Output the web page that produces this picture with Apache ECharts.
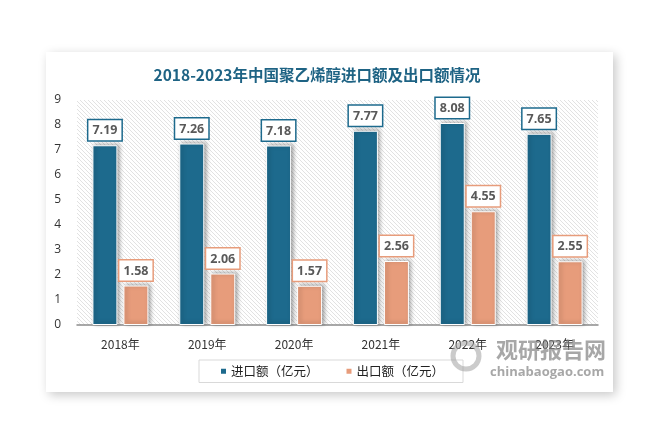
<!DOCTYPE html>
<html><head><meta charset="utf-8">
<script src="https://cdn.jsdelivr.net/npm/echarts@6/dist/echarts.min.js"></script>
<style>
html,body{margin:0;padding:0;background:#fff;width:659px;height:442px;overflow:hidden;}
#card{position:absolute;left:46px;top:52px;width:567px;height:340px;background:#fff;box-shadow:3px 3px 10px rgba(0,0,0,0.22);}
#main{position:absolute;left:0;top:0;width:659px;height:442px;}
</style></head>
<body>
<div id="card"></div>
<div id="main"></div>
<script>
const titleText = '2018-2023年中国聚乙烯醇进口额及出口额情况';
const categories = ['2018年','2019年','2020年','2021年','2022年','2023年'];
const importName = '进口额（亿元）';
const exportName = '出口额（亿元）';
const importValues = [7.19, 7.26, 7.18, 7.77, 8.08, 7.65];
const exportValues = [1.58, 2.06, 1.57, 2.56, 4.55, 2.55];

const blue = '#1d6a8d';
const orange = '#e79c7b';

// hatch pattern for plot background
const pc = document.createElement('canvas');
pc.width = 4; pc.height = 4;
const g = pc.getContext('2d');
g.fillStyle = '#ffffff'; g.fillRect(0,0,4,4);
g.strokeStyle = '#e2e2e2'; g.lineWidth = 1;
g.beginPath(); g.moveTo(-1,-1); g.lineTo(5,5); g.stroke();
g.beginPath(); g.moveTo(-1,3); g.lineTo(1,5); g.stroke();
g.beginPath(); g.moveTo(3,-1); g.lineTo(5,1); g.stroke();

const chart = echarts.init(document.getElementById('main'), null, {renderer:'canvas'});
function labelFor(color){
  return {show:true, position:'top', distance:5, backgroundColor:'#fff', borderColor:color, borderWidth:1.5,
    padding:[4,4,3,4], color:'#595959', fontWeight:'bold', fontSize:12.5, fontFamily:'Open Sans',
    formatter: p => p.value.toFixed(2)};
}
chart.setOption({
  backgroundColor:'transparent',
  animation:false,
  title:{text:titleText, left:312, top:62, textAlign:'center',
    textStyle:{color:'#1e6384', fontSize:15.5, fontWeight:'bold', fontFamily:'Noto Sans CJK SC'}},
  grid:{left:77, right:61, top:100, bottom:117, show:true, borderWidth:0,
    backgroundColor:{image:pc, repeat:'repeat'}},
  legend:{left:199, top:360, itemWidth:7, itemHeight:7, itemGap:26, padding:[5,19,5,20],
    borderColor:'#d9d9d9', borderWidth:1, icon:'rect',
    textStyle:{fontSize:12.5, color:'#222', fontFamily:'Noto Sans CJK SC', padding:[0,0,0,-1]},
    data:[importName, exportName]},
  xAxis:{type:'category', data:categories,
    axisLine:{lineStyle:{color:'#8c8c8c', width:1.5}}, axisTick:{show:false},
    axisLabel:{color:'#333', fontSize:12, margin:13, fontFamily:'Noto Sans CJK SC'}},
  yAxis:{type:'value', min:0, max:9, interval:1,
    axisLine:{show:false}, axisTick:{show:false}, splitLine:{show:false},
    axisLabel:{color:'#333', fontSize:12, margin:16, fontFamily:'Open Sans'}},
  series:[
    {name:importName, type:'bar', data:importValues, barWidth:25, barGap:'24%',
      itemStyle:{color:blue, borderColor:'#fff', borderWidth:1, shadowColor:'rgba(0,0,0,0.35)', shadowBlur:4, shadowOffsetX:2, shadowOffsetY:-1},
      label:labelFor(blue)},
    {name:exportName, type:'bar', data:exportValues, barWidth:25,
      itemStyle:{color:orange, borderColor:'#fff', borderWidth:1, shadowColor:'rgba(0,0,0,0.35)', shadowBlur:4, shadowOffsetX:2, shadowOffsetY:-1},
      label:labelFor(orange)}
  ],
  graphic:[
    {type:'text', left:496, top:339, z:100, style:{text:'观研报告网', fill:'rgba(130,130,130,0.7)', font:'bold 22px "Noto Sans CJK SC"'}},
    {type:'text', left:490, top:366, z:100, style:{text:'chinabaogao.com', fill:'rgba(130,130,130,0.7)', font:'bold 13px "Open Sans"'}},
    {type:'circle', shape:{cx:466, cy:356, r:13}, z:100, style:{fill:'none', stroke:'rgba(160,160,160,0.55)', lineWidth:5}}
  ]
});
</script>
</body></html>
